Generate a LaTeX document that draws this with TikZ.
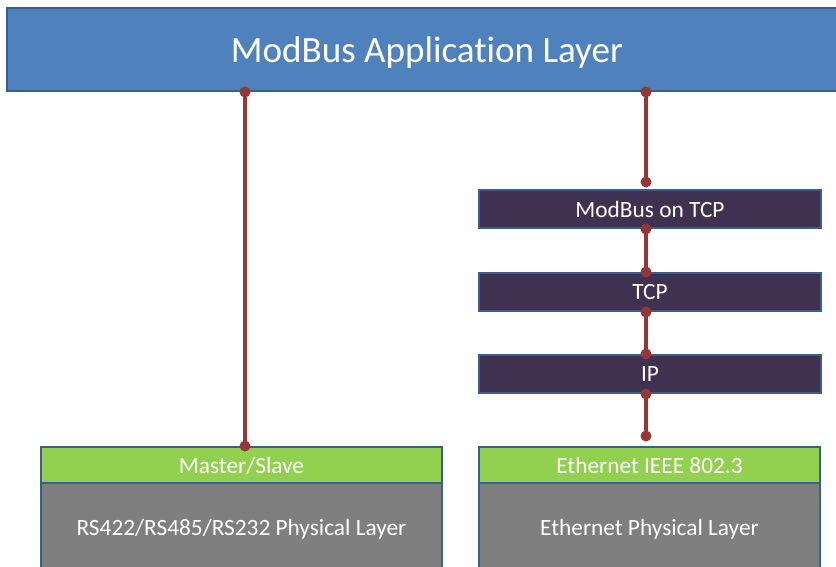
\documentclass[tikz,border=0pt]{standalone}
\usepackage{fontspec}
\setmainfont{Carlito}[Ligatures=NoCommon]
\usetikzlibrary{positioning}
\definecolor{appblue}{HTML}{4F81BD}
\definecolor{edgeblue}{HTML}{3A5F8C}
\definecolor{tcppurple}{HTML}{403151}
\definecolor{linkgreen}{HTML}{92D050}
\definecolor{phygray}{HTML}{7F7F7F}
\definecolor{linkred}{HTML}{953735}
\tikzset{
	every node/.style = {font=\fontsize{17.5}{21}\selectfont, text=white, inner sep=0pt, text depth=0pt},
	layer/.style = {draw=edgeblue, line width=1.5pt, rectangle},
	link/.style = {draw=linkred, line width=2.6pt},
	dot/.style = {circle, fill=linkred, minimum size=8.25pt}
}
\begin{document}
\begin{tikzpicture}[x=0.75pt, y=-0.75pt]
		\useasboundingbox (0,0) rectangle (836,567);
		% application layer
		\node[layer, fill=appblue, minimum width=630pt, minimum height=62.25pt,
			font=\fontsize{27.8}{33}\selectfont] (app) at (427,49.5) {ModBus Application Layer};
		% tcp stack
		\node[layer, fill=tcppurple, minimum width=256pt, minimum height=28.5pt] (mtcp) at (650,209) {ModBus on TCP};
		\node[layer, fill=tcppurple, minimum width=256pt, minimum height=28.5pt] (tcp) at (650,292) {TCP};
		\node[layer, fill=tcppurple, minimum width=256pt, minimum height=28.5pt] (ip) at (650,374) {IP};
		% physical layers
		\node[layer, fill=phygray, minimum width=300.75pt, minimum height=66pt] (serial) at (241.5,527) {RS422/RS485/RS232 Physical Layer};
		\node[layer, fill=linkgreen, minimum width=300.75pt, minimum height=27pt] (ms) at (241.5,465) {Master/Slave};
		\node[layer, fill=phygray, minimum width=255.75pt, minimum height=66pt] (eth) at (649.5,527) {Ethernet Physical Layer};
		\node[layer, fill=linkgreen, minimum width=255.75pt, minimum height=27pt] (ieee) at (649.5,465) {Ethernet IEEE 802.3};
		% connectors
		\coordinate (left) at (245,0);
		\coordinate (top r) at (646,182);
		\coordinate (bot r) at (646,436);
		\draw[link] (app.south -| left) node[dot] {} -- (ms.north -| left) node[dot] {};
		\draw[link] (app.south -| top r) node[dot] {} -- (top r) node[dot] {};
		\draw[link] (mtcp.south -| top r) node[dot] {} -- (tcp.north -| top r) node[dot] {};
		\draw[link] (tcp.south -| top r) node[dot] {} -- (ip.north -| top r) node[dot] {};
		\draw[link] (ip.south -| top r) node[dot] {} -- (bot r) node[dot] {};
	\end{tikzpicture}
\end{document}
